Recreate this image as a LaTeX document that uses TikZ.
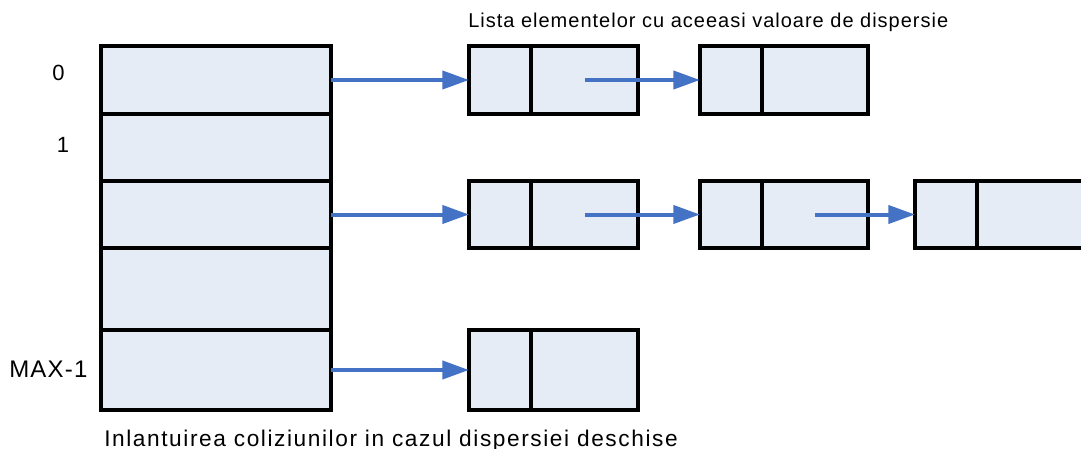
\documentclass[tikz,border=0pt]{standalone}
\usepackage{fontspec}
\setmainfont{Liberation Sans}
\usetikzlibrary{arrows.meta}
\definecolor{cellfill}{HTML}{E6ECF6}
\definecolor{arrblue}{HTML}{4472C4}
\tikzset{
  cell/.style={draw=black, line width=2.5pt, fill=cellfill, inner sep=0pt, outer sep=0pt},
  tcell/.style={cell, minimum width=230*0.75pt},
  keypart/.style={cell, minimum width=62*0.75pt, minimum height=67*0.75pt},
  nextpart/.style={cell, minimum width=107*0.75pt, minimum height=67*0.75pt},
  link/.style={draw=arrblue, line width=3pt, -{Triangle[length=20pt,width=13.5pt]}},
  lbl/.style={anchor=base, inner sep=0pt}
}
\begin{document}
\begin{tikzpicture}[x=0.75pt,y=-0.75pt]
\clip (0,0) rectangle (1081,449);
\path[use as bounding box] (0,0) rectangle (1081,449);
% table
\node[tcell, minimum height=68*0.75pt] (t0) at (216,80) {};
\node[tcell, minimum height=67*0.75pt] (t1) at (216,147.5) {};
\node[tcell, minimum height=67*0.75pt] (t2) at (216,214.5) {};
\node[tcell, minimum height=82*0.75pt] (t3) at (216,289) {};
\node[tcell, minimum height=80*0.75pt] (t4) at (216,370) {};
% row 0 list
\node[keypart, minimum height=68*0.75pt] (a0k) at (500,80) {};
\node[nextpart, minimum height=68*0.75pt] (a0n) at (584.5,80) {};
\node[keypart, minimum height=68*0.75pt] (a1k) at (731,80) {};
\node[nextpart, minimum height=68*0.75pt, minimum width=106*0.75pt] (a1n) at (815,80) {};
% row 2 list
\node[keypart] (b0k) at (500,214.5) {};
\node[nextpart] (b0n) at (584.5,214.5) {};
\node[keypart] (b1k) at (731,214.5) {};
\node[nextpart, minimum width=106*0.75pt] (b1n) at (815,214.5) {};
\node[keypart] (b2k) at (946,214.5) {};
\node[nextpart, minimum width=110*0.75pt] (b2n) at (1032,214.5) {};
% row 4 list
\node[keypart, minimum height=80*0.75pt] (c0k) at (500,370) {};
\node[nextpart, minimum height=80*0.75pt] (c0n) at (584.5,370) {};
% links
\draw[link] (t0.east) -- (a0k.west);
\draw[link] (a0n.center) -- (a1k.west);
\draw[link] (t2.east) -- (b0k.west);
\draw[link] (b0n.center) -- (b1k.west);
\draw[link] (b1n.center) -- (b2k.west);
\draw[link] (t4.east) -- (c0k.west);
% labels
\node[lbl, font=\fontsize{16.5pt}{19pt}\selectfont] (l0) at (58.5,81) {0};
\node[lbl, font=\fontsize{16.5pt}{19pt}\selectfont] (l1) at (63,153) {1};
\node[lbl, anchor=base west, font=\fontsize{18pt}{21pt}\selectfont\addfontfeature{LetterSpace=5}] (lmax) at (9,377) {MAX-1};
\node[lbl, anchor=base west, font=\fontsize{15pt}{18pt}\selectfont\addfontfeature{LetterSpace=5}] (title) at (468,28) {Lista elementelor cu aceeasi valoare de dispersie};
\node[lbl, anchor=base west, font=\fontsize{17pt}{20pt}\selectfont\addfontfeature{LetterSpace=7}] (caption) at (104,446) {Inlantuirea coliziunilor in cazul dispersiei deschise};
\end{tikzpicture}
\end{document}
